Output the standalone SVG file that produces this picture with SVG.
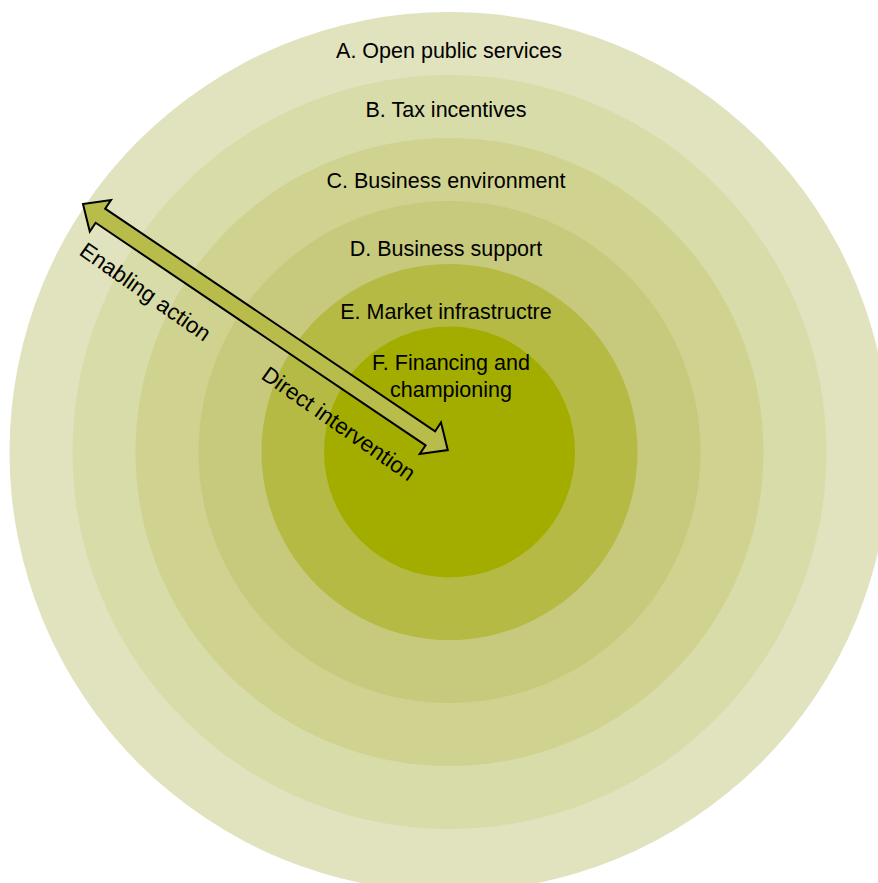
<svg xmlns="http://www.w3.org/2000/svg" width="878" height="883" viewBox="0 0 878 883">
<style>
.lbl{font-family:"Liberation Sans","DejaVu Sans",sans-serif;font-size:21.5px;fill:#000;text-anchor:middle}
.al{font-family:"Liberation Sans","DejaVu Sans",sans-serif;font-size:22.5px;fill:#000}
</style>
<rect width="878" height="883" fill="#fff"/>
<g id="ringA"><circle cx="449.5" cy="452" r="440" fill="#E1E3BE"/><text class="lbl" x="449" y="58">A. Open public services</text></g>
<g id="ringB"><circle cx="449.5" cy="452" r="377" fill="#D7DCA8"/><text class="lbl" x="446" y="117">B. Tax incentives</text></g>
<g id="ringC"><circle cx="449.5" cy="452" r="314" fill="#D0D28F"/><text class="lbl" x="446" y="188">C. Business environment</text></g>
<g id="ringD"><circle cx="449.5" cy="452" r="251" fill="#C7CA7C"/><text class="lbl" x="446" y="256">D. Business support</text></g>
<g id="ringE"><circle cx="449.5" cy="452" r="188" fill="#B5BA45"/><text class="lbl" x="446" y="319">E. Market infrastructre</text></g>
<g id="ringF"><circle cx="449.5" cy="452" r="125.5" fill="#A3AD00"/><text class="lbl" x="451" y="370">F. Financing and</text><text class="lbl" x="451" y="397">championing</text></g>
<g id="connectors">
<path transform="translate(83,204) rotate(34)" d="M0,0 L21,-19 L21,-8.5 L419,-8.5 L419,-19 L440,0 L419,19 L419,8.5 L21,8.5 L21,19 Z" fill="#B7BC4A" stroke="#000" stroke-width="2" stroke-linejoin="miter"/>
<text class="al" transform="translate(78,254) rotate(35)">Enabling action</text>
<text class="al" transform="translate(260,378) rotate(35)">Direct intervention</text>
</g>
</svg>
